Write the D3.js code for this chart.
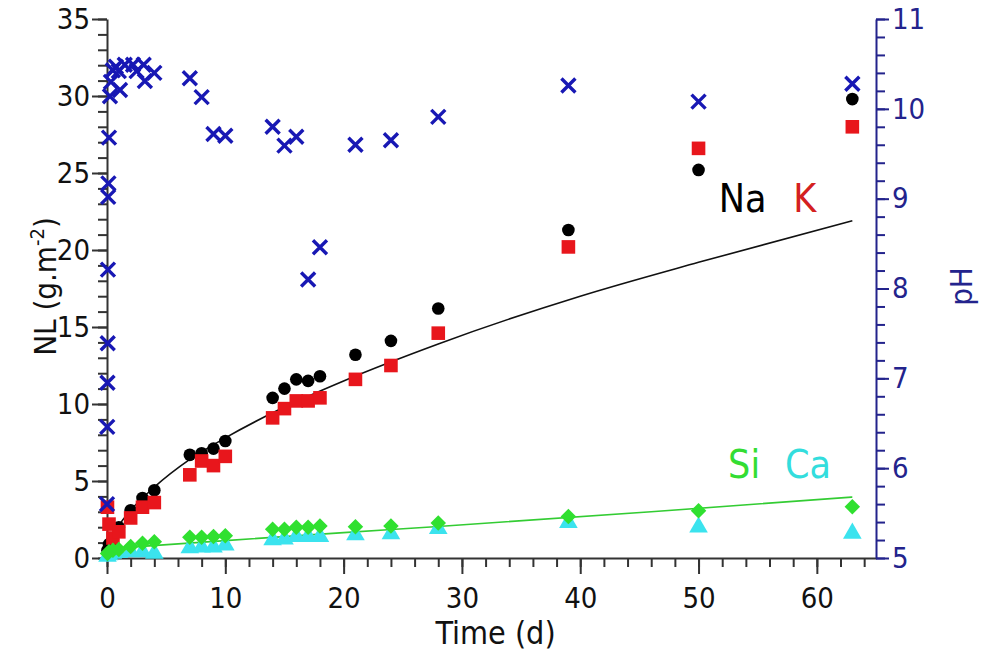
<!DOCTYPE html>
<html>
<head>
<meta charset="utf-8">
<script src="https://cdn.jsdelivr.net/npm/d3@7"></script>
<style>
  body { margin: 0; background: #fff; }
  svg text { font-family: 'DejaVu Sans Condensed', 'DejaVu Sans', sans-serif; font-stretch: condensed; }
</style>
</head>
<body>
<svg id="chart" width="981" height="651"></svg>
<script>
// element release, NL in g.m-2
const tNLEarly = [0.04, 0.17, 0.5, 1, 2, 3, 4];
const tNLLate = [7, 8, 9, 10, 14, 15, 16, 17, 18, 21, 24, 28, 39, 50, 63];
const tNL = tNLEarly.concat(tNLLate);

const naValues = [0.5, 0.9, 1.2, 2.0, 3.1, 3.9, 4.4,
  6.7, 6.8, 7.1, 7.6, 10.4, 11.0, 11.6, 11.5, 11.8, 13.2, 14.1, 16.2, 21.3, 25.2, 29.8];
const kValues = [3.3, 2.2, 1.3, 1.7, 2.6, 3.3, 3.6,
  5.4, 6.3, 6.0, 6.6, 9.1, 9.7, 10.2, 10.2, 10.4, 11.6, 12.5, 14.6, 20.2, 26.6, 28.0];
const siValues = [0.3, 0.4, 0.5, 0.55, 0.75, 0.95, 1.05,
  1.34, 1.34, 1.39, 1.45, 1.86, 1.86, 2.0, 2.0, 2.08, 2.03, 2.08, 2.27, 2.7, 3.07, 3.33];
const caValues = [0.1, 0.2, 0.3, 0.35, 0.4, 0.4, 0.3,
  0.65, 0.7, 0.7, 0.84, 1.17, 1.23, 1.38, 1.38, 1.38, 1.5, 1.56, 1.9, 2.3, 2.0, 1.6];

// pH (right axis)
const tPH = [0, 0.02, 0.04, 0.06, 0.08, 0.1, 0.12, 0.17, 0.25, 0.33, 0.5, 0.75, 1, 1.1, 1.5,
  2.2, 2.5, 3.1, 3.2, 4, 7, 8, 9, 10, 14, 15, 16, 17, 18, 21, 24, 28, 39, 50, 63];
const phValues = [5.6, 6.46, 6.95, 7.39, 8.21, 9.02, 9.17, 9.68, 10.14, 10.3, 10.43, 10.47, 10.42, 10.21, 10.49,
  10.49, 10.42, 10.49, 10.31, 10.4, 10.34, 10.13, 9.72, 9.7, 9.8, 9.59, 9.69, 8.1, 8.46, 9.6, 9.65, 9.91, 10.26, 10.08, 10.28];

// fitted curves
const naFitT = [0, 0.25, 0.5, 1, 2, 4, 7, 10, 15, 20, 28, 40, 50, 63];
const naFit = [0, 1.0, 1.45, 2.1, 3.1, 4.6, 6.4, 7.8, 9.8, 11.5, 13.9, 17.0, 19.2, 21.9];
const siFitT = [0, 10, 20, 28, 46, 63];
const siFit = [0.6, 1.13, 1.65, 2.05, 3.0, 3.96];

const xTicks = [0, 10, 20, 30, 40, 50, 60];
const yTicks = [0, 5, 10, 15, 20, 25, 30, 35];
const phTicks = [5, 6, 7, 8, 9, 10, 11];

const margin = { left: 107, right: 105, top: 19, bottom: 93 };
const width = 981, height = 651;

const svg = d3.select('#chart');

const x = d3.scaleLinear().domain([0, 65]).range([margin.left, width - margin.right]);
const y = d3.scaleLinear().domain([0, 35]).range([height - margin.bottom, margin.top]);
const yPH = d3.scaleLinear().domain([5, 11]).range([height - margin.bottom, margin.top]);

const axisColor = '#333';
const phColor = '#23238c';
const tickFont = 29;

// minor ticks first, then major axes on top
svg.append('g')
  .attr('transform', `translate(0,${y(0)})`)
  .call(d3.axisBottom(x).tickValues(d3.range(0, 66, 2)).tickSize(9).tickFormat(''))
  .call(g => g.select('.domain').remove())
  .selectAll('line').attr('stroke', axisColor).attr('stroke-width', 2);

const xAxis = svg.append('g')
  .attr('transform', `translate(0,${y(0)})`)
  .call(d3.axisBottom(x).tickValues(xTicks).tickSize(16).tickSizeOuter(0).tickPadding(13));
xAxis.select('.domain').attr('stroke', axisColor).attr('stroke-width', 2);
xAxis.selectAll('line').attr('stroke', axisColor).attr('stroke-width', 2);
xAxis.selectAll('text').attr('font-size', tickFont).attr('fill', '#111');

svg.append('g')
  .attr('transform', `translate(${x(0)},0)`)
  .call(d3.axisLeft(y).tickValues(d3.range(0, 36, 1)).tickSize(9).tickFormat(''))
  .call(g => g.select('.domain').remove())
  .selectAll('line').attr('stroke', axisColor).attr('stroke-width', 2);

const yAxis = svg.append('g')
  .attr('transform', `translate(${x(0)},0)`)
  .call(d3.axisLeft(y).tickValues(yTicks).tickSize(15).tickSizeOuter(0).tickPadding(2));
yAxis.select('.domain').attr('stroke', axisColor).attr('stroke-width', 2);
yAxis.selectAll('line').attr('stroke', axisColor).attr('stroke-width', 2);
yAxis.selectAll('text').attr('font-size', tickFont).attr('fill', '#111');

svg.append('g')
  .attr('transform', `translate(${x(65)},0)`)
  .call(d3.axisRight(yPH).tickValues(d3.range(5, 11.01, 0.2)).tickSize(9).tickFormat(''))
  .call(g => g.select('.domain').remove())
  .selectAll('line').attr('stroke', phColor).attr('stroke-width', 2);

const phAxis = svg.append('g')
  .attr('transform', `translate(${x(65)},0)`)
  .call(d3.axisRight(yPH).tickValues(phTicks).tickSize(13).tickSizeOuter(0).tickPadding(3)
    .tickFormat(d3.format('d')));
phAxis.select('.domain').attr('stroke', phColor).attr('stroke-width', 2);
phAxis.selectAll('line').attr('stroke', phColor).attr('stroke-width', 2);
phAxis.selectAll('text').attr('font-size', tickFont).attr('fill', phColor);

// axis titles
svg.append('text')
  .attr('x', (x(0) + x(65)) / 2 + 4)
  .attr('y', 644)
  .attr('text-anchor', 'middle')
  .attr('font-size', 32)
  .attr('fill', '#111')
  .text('Time (d)');

const yTitle = svg.append('text')
  .attr('transform', `translate(56,${(y(0) + y(35)) / 2 - 2}) rotate(-90)`)
  .attr('text-anchor', 'middle')
  .attr('font-size', 31)
  .attr('fill', '#111');
yTitle.append('tspan').text('NL (g.m');
yTitle.append('tspan').attr('font-size', 20).attr('dy', -12).text('-2');
yTitle.append('tspan').attr('dy', 12).text(')');

svg.append('text')
  .attr('transform', `translate(972,${(y(0) + y(35)) / 2 - 2}) rotate(-90)`)
  .attr('text-anchor', 'middle')
  .attr('font-size', 31)
  .attr('fill', phColor)
  .text('pH');

// fitted curves
const line = d3.line().curve(d3.curveMonotoneX);
svg.append('path')
  .datum(naFitT.map((t, i) => [x(t), y(naFit[i])]))
  .attr('d', line)
  .attr('fill', 'none')
  .attr('stroke', '#111')
  .attr('stroke-width', 1.6);
svg.append('path')
  .datum(siFitT.map((t, i) => [x(t), y(siFit[i])]))
  .attr('d', line)
  .attr('fill', 'none')
  .attr('stroke', '#3c3')
  .attr('stroke-width', 1.6);

// markers
const drawSeries = (values, shape, size, color, rotate) => {
  svg.append('g').selectAll('path')
    .data(values)
    .join('path')
    .attr('d', d3.symbol().type(shape).size(size))
    .attr('transform', (d, i) => `translate(${x(tNL[i])},${y(d)}) rotate(${rotate})`)
    .attr('fill', color);
};

drawSeries(naValues, d3.symbolCircle, 125, '#000', 0);
drawSeries(kValues, d3.symbolSquare, 185, '#e8161c', 0);
drawSeries(caValues, d3.symbolTriangle, 150, '#3be3ee', 0);
drawSeries(siValues, d3.symbolSquare, 120, '#30e030', 45);

// X marks for pH drawn as two strokes
const xMark = 7;
svg.append('g').selectAll('path')
  .data(phValues)
  .join('path')
  .attr('d', `M${-xMark},${-xMark}L${xMark},${xMark}M${-xMark},${xMark}L${xMark},${-xMark}`)
  .attr('transform', (d, i) => `translate(${x(tPH[i])},${yPH(d)})`)
  .attr('stroke', '#1818b4')
  .attr('stroke-width', 3.4)
  .attr('fill', 'none');

// in-plot labels
const labels = [
  { text: 'Na', t: 51.7, v: 22.5, color: '#000' },
  { text: 'K', t: 58.0, v: 22.5, color: '#d42020' },
  { text: 'Si', t: 52.5, v: 5.2, color: '#33dd33' },
  { text: 'Ca', t: 57.3, v: 5.2, color: '#33dddd' }
];
svg.append('g').selectAll('text')
  .data(labels)
  .join('text')
  .attr('x', d => x(d.t))
  .attr('y', d => y(d.v))
  .attr('font-size', 39)
  .attr('fill', d => d.color)
  .text(d => d.text);
</script>
</body>
</html>
